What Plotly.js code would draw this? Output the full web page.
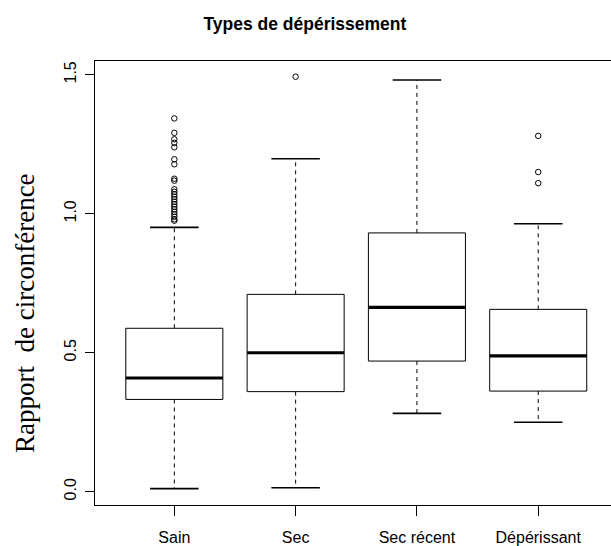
<!DOCTYPE html>
<html>
<head>
<meta charset="utf-8">
<script src="https://cdn.plot.ly/plotly-3.0.1.min.js"></script>
<style>html,body{margin:0;padding:0;background:#fff}#plot{width:611px;height:546px}</style>
</head>
<body>
<div id="plot"></div>
<script>
// Data
const categories = ["Sain", "Sec", "Sec récent", "Dépérissant"];
const lowerWhisker = [0.011, 0.014, 0.282, 0.250];
const q1 = [0.332, 0.360, 0.470, 0.362];
const medians = [0.409, 0.500, 0.663, 0.489];
const q3 = [0.588, 0.710, 0.931, 0.656];
const upperWhisker = [0.951, 1.198, 1.481, 0.964];
const outliersSain = [1.343, 1.291, 1.268, 1.255, 1.239, 1.196, 1.178, 1.126, 1.119,
  1.088, 1.079, 1.070, 1.061, 1.052, 1.043, 1.034, 1.025, 1.016, 1.007, 0.998, 0.989, 0.980, 0.975];
const outliersSec = [1.493];
const outliersSecRecent = [];
const outliersDeper = [1.280, 1.150, 1.110];
const outliers = [outliersSain, outliersSec, outliersSecRecent, outliersDeper];
const yTickVals = [0.0, 0.5, 1.0, 1.5];
const yTitle = 'Rapport  de circonférence';
const mainTitle = 'Types de dépérissement';

const halfBox = 0.4, halfCap = 0.2;
const traces = [];
categories.forEach((c, i) => {
  const x = i + 1;
  traces.push({type:'scatter', mode:'lines', x:[x, x, null, x, x], y:[q3[i], upperWhisker[i], null, q1[i], lowerWhisker[i]],
    line:{color:'#000', width:1, dash:'4px,4px'}, hoverinfo:'skip', showlegend:false});
  traces.push({type:'scatter', mode:'lines', x:[x-halfCap, x+halfCap, null, x-halfCap, x+halfCap],
    y:[upperWhisker[i], upperWhisker[i], null, lowerWhisker[i], lowerWhisker[i]],
    line:{color:'#000', width:1.6}, hoverinfo:'skip', showlegend:false});
  traces.push({type:'scatter', mode:'lines', x:[x-halfBox, x+halfBox, x+halfBox, x-halfBox, x-halfBox],
    y:[q1[i], q1[i], q3[i], q3[i], q1[i]], fill:'toself', fillcolor:'#fff',
    line:{color:'#000', width:1}, hoverinfo:'skip', showlegend:false});
  traces.push({type:'scatter', mode:'lines', x:[x-halfBox, x+halfBox], y:[medians[i], medians[i]],
    line:{color:'#000', width:3.2}, hoverinfo:'skip', showlegend:false});
  if (outliers[i].length) {
    traces.push({type:'scatter', mode:'markers', x:outliers[i].map(() => x), y:outliers[i],
      marker:{symbol:'circle-open', size:5.5, color:'#000', line:{width:1, color:'#000'}},
      hoverinfo:'skip', showlegend:false});
  }
});

const layout = {
  width:611, height:546,
  margin:{l:95, r:0, t:61, b:41},
  paper_bgcolor:'#fff', plot_bgcolor:'#fff',
  font:{family:'"Liberation Sans", Arial, sans-serif', color:'#000'},
  title:{text:'<b>' + mainTitle + '</b>', font:{size:17.5, family:'"Liberation Sans", Arial, sans-serif', color:'#000'},
    x:0.499, xref:'container', xanchor:'center', y:1-24/546, yref:'container', yanchor:'middle'},
  xaxis:{range:[0.346, 4.60], tickvals:[1,2,3,4], ticktext:categories, showgrid:false, zeroline:false,
    showline:true, linecolor:'#000', linewidth:1, mirror:true, ticks:'outside', ticklen:10, tickcolor:'#000',
    tickfont:{size:16}, ticklabelstandoff:8, fixedrange:true},
  yaxis:{range:[-0.0478, 1.5495], tickvals:yTickVals, tickformat:'.1f', tickangle:-90, showgrid:false, zeroline:false,
    showline:true, linecolor:'#000', linewidth:1, ticks:'outside', ticklen:9, tickcolor:'#000',
    tickfont:{size:16}, ticklabelstandoff:3, automargin:false, fixedrange:true},
  annotations:[{text:yTitle, xref:'paper', yref:'paper', x:(25-95)/516, y:(505-313)/444,
    xanchor:'center', yanchor:'middle', textangle:-90, showarrow:false,
    font:{size:27, family:'"Liberation Serif", "Times New Roman", serif', color:'#000'}}]
};
Plotly.newPlot('plot', traces, layout, {staticPlot:true, displayModeBar:false});
</script>
</body>
</html>
